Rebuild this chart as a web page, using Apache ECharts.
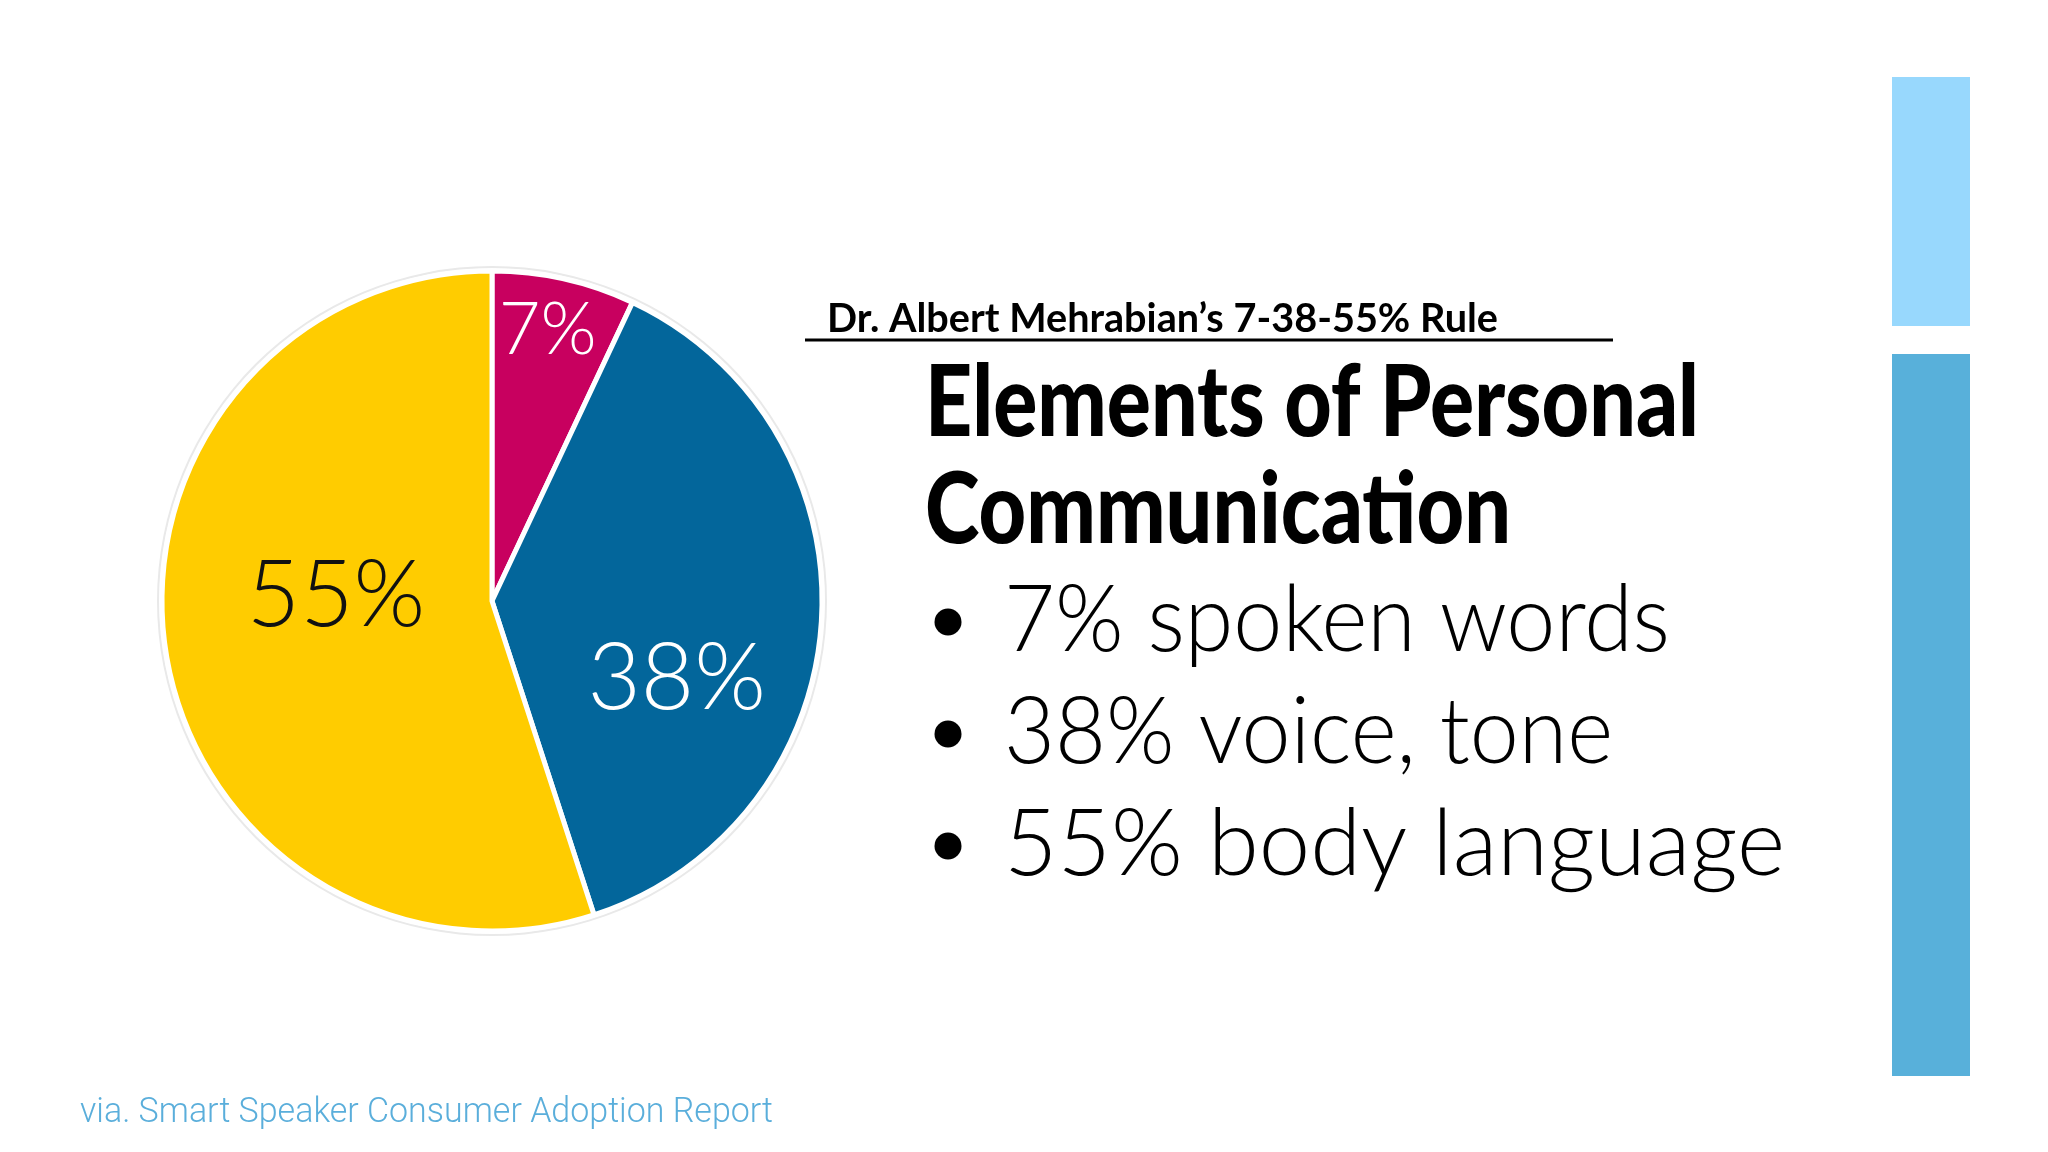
<!DOCTYPE html>
<html>
<head>
<meta charset="utf-8">
<title>Elements of Personal Communication</title>
<script src="https://cdn.jsdelivr.net/npm/echarts@6/dist/echarts.min.js"></script>
<style>
html, body { margin: 0; padding: 0; background: #ffffff; }
#main { width: 2048px; height: 1152px; }
</style>
</head>
<body>
<div id="main"></div>
<script>
// chart data
var categories = ['spoken words', 'voice, tone', 'body language'];
var shares = [7, 38, 55];
var subtitle = 'Dr. Albert Mehrabian\u2019s 7-38-55% Rule';
var headingLines = ['Elements of Personal', 'Communication'];
var footnote = 'via. Smart Speaker Consumer Adoption Report';

// styles / layout
var sliceColors = ['#C8005F', '#03669B', '#FFCC00'];
var labelColors = ['#ffffff', '#ffffff', '#111111'];
var labelSizes = [72, 92, 92];
var labelShift = [[19, -106], [17, 68], [10, -31]]; // moves labels off the default "inside" spot
var pieCenter = [492, 601];
var pieRadius = 330;

// measure text so the (substitute) fonts keep the original line widths
var measureCtx = document.createElement('canvas').getContext('2d');
function stretch(text, font, width) {
  measureCtx.font = font;
  return width / measureCtx.measureText(text).width;
}
function textEl(text, font, x, y, width, color) {
  return {
    type: 'text',
    x: x,
    y: y,
    scaleX: stretch(text, font, width),
    silent: true,
    style: {
      text: text,
      font: font,
      fill: color || '#000000',
      align: 'left',
      verticalAlign: 'middle'
    }
  };
}

var pieData = shares.map(function (v, i) {
  return {
    name: categories[i],
    value: v,
    itemStyle: { color: sliceColors[i] },
    label: { color: labelColors[i], fontSize: labelSizes[i] }
  };
});

var bulletFont = '300 93px Lato';
var bulletRows = [621, 733, 845];
var bulletWidths = [666, 609, 781];
var headingFont = '900 99px Lato';
var subFont = 'bold 40px Lato';
var noteFont = '300 35px Roboto';

var graphics = [
  textEl(subtitle, subFont, 827, 319, 671),
  {
    type: 'line',
    silent: true,
    shape: { x1: 805, y1: 340, x2: 1613, y2: 340 },
    style: { stroke: '#000000', lineWidth: 3 }
  },
  textEl(headingLines[0], headingFont, 925, 404, 774),
  textEl(headingLines[1], headingFont, 925, 511, 586),
  textEl(footnote, noteFont, 80, 1113, 693, '#5AAEDB'),
  {
    type: 'rect',
    silent: true,
    shape: { x: 1892, y: 77, width: 78, height: 249 },
    style: { fill: '#98D8FD' }
  },
  {
    type: 'rect',
    silent: true,
    shape: { x: 1892, y: 354, width: 78, height: 722 },
    style: { fill: '#58B0DA' }
  }
];

shares.forEach(function (v, i) {
  var line = v + '% ' + categories[i];
  graphics.push({
    type: 'circle',
    silent: true,
    shape: { cx: 948, cy: bulletRows[i] + 1, r: 13.5 },
    style: { fill: '#000000' }
  });
  graphics.push(textEl(line, bulletFont, 1004, bulletRows[i], bulletWidths[i]));
});

var chart = echarts.init(document.getElementById('main'));
chart.setOption({
  backgroundColor: '#ffffff',
  animation: false,
  series: [
    {
      // faint outline round the pie
      type: 'pie',
      silent: true,
      center: pieCenter,
      radius: [pieRadius + 3, pieRadius + 5],
      label: { show: false },
      labelLine: { show: false },
      itemStyle: { color: '#E9E9E9' },
      data: [{ value: 1, name: 'outline' }]
    },
    {
      type: 'pie',
      center: pieCenter,
      radius: [0, pieRadius],
      startAngle: 90,
      clockwise: true,
      silent: true,
      itemStyle: { borderColor: '#ffffff', borderWidth: 5 },
      label: {
        show: true,
        position: 'inside',
        formatter: '{c}%',
        fontFamily: 'Lato',
        fontWeight: 300
      },
      labelLine: { show: false },
      labelLayout: function (params) {
        var s = labelShift[params.dataIndex];
        return { dx: s[0], dy: s[1] };
      },
      data: pieData
    }
  ],
  graphic: graphics
});
</script>
</body>
</html>
